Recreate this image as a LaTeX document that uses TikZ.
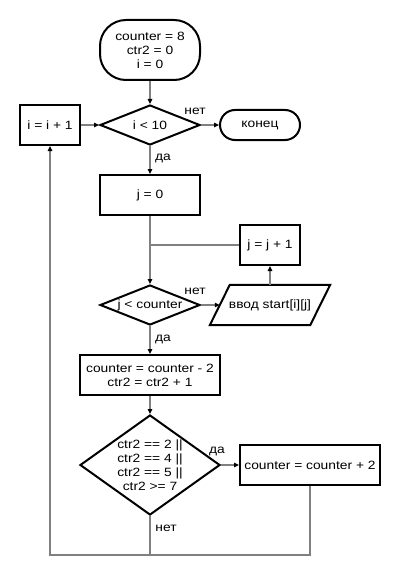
\documentclass[tikz,border=0pt]{standalone}
\usepackage{fontspec}
\setmainfont{Liberation Sans}[FakeStretch=1.15]
\usetikzlibrary{shapes.geometric,arrows.meta}
\begin{document}
\begin{tikzpicture}[x=1pt,y=-1pt,
  every node/.style={font=\fontsize{12}{14}\selectfont, text=black},
  proc/.style={draw=black, line width=2pt, rectangle, minimum height=40pt, inner sep=0pt, align=center},
  term/.style={draw=black, line width=2pt, rectangle, inner sep=0pt, align=center},
  decision/.style={draw=black, line width=2pt, diamond, aspect=2.5, inner sep=0pt, align=center},
  flow/.style={draw=gray, line width=1.6pt, -{Triangle[length=5pt,width=4.5pt,color=black]}},
  link/.style={draw=gray, line width=1.6pt},
  lbl/.style={inner sep=0pt}
]
\useasboundingbox (0,0) rectangle (400,575);

% blocks
\node[term, minimum width=100pt, minimum height=60pt, rounded corners=26pt] (start) at (150,50) {counter = 8\\ctr2 = 0\\i = 0};
\node[decision, minimum width=100pt, minimum height=40pt] (c1) at (150,125) {i < 10};
\node[term, minimum width=80pt, minimum height=30pt, rounded corners=15pt] (stop) at (260,125) {конец};
\node[proc, minimum width=60pt] (inci) at (50,125) {i = i + 1};
\node[proc, minimum width=100pt] (setj) at (150,195) {j = 0};
\node[proc, minimum width=60pt] (incj) at (270,245) {j = j + 1};
\node[decision, minimum width=100pt, minimum height=40pt] (c2) at (150,305) {j < counter};
\node[inner sep=0pt, minimum width=100pt, minimum height=40pt] (inp) at (270,305) {ввод start[i][j]};
\draw[line width=2pt, line join=miter]
  ([xshift=-10pt]inp.south west) -- ([xshift=-10pt]inp.south east)
  -- ([xshift=10pt]inp.north east) -- ([xshift=10pt]inp.north west) -- cycle;
\node[proc, minimum width=140pt] (upd) at (150,375) {counter = counter - 2\\ctr2 = ctr2 + 1};
\node[decision, minimum width=140pt, minimum height=100pt] (c3) at (150,465) {};
\node[align=center, inner sep=0pt] (c3txt) at (c3) {ctr2 == 2 ||\\ctr2 == 4 ||\\ctr2 == 5 ||\\ctr2 >= 7};
\node[proc, minimum width=140pt] (add) at (310,465) {counter = counter + 2};

\coordinate (junc) at (setj.south |- incj.west);
\coordinate (bot) at (150,555);

% connectors
\draw[flow] (start.south) -- (c1.north);
\draw[flow] (c1.east) -- (stop.west);
\draw[flow] (c1.south) -- (setj.north);
\draw[flow] (inci.east) -- (c1.west);
\draw[flow] (setj.south) -- (c2.north);
\draw[link] (incj.west) -- (junc);
\draw[flow] (c2.east) -- (inp.west);
\draw[flow] (inp.north) -- (incj.south);
\draw[flow] (c2.south) -- (upd.north);
\draw[flow] (upd.south) -- (c3.north);
\draw[flow] (c3.east) -- (add.west);
\draw[flow] (c3.south) -- (bot) -| (inci.south);
\draw[link] (add.south) |- (bot);

% branch labels
\node[lbl] (n1) at (195,111) {нет};
\node[lbl] (y1) at (163,158) {да};
\node[lbl] (n2) at (195,291) {нет};
\node[lbl] (y2) at (163,339) {да};
\node[lbl] (y3) at (217,451) {да};
\node[lbl] (n3) at (166,528) {нет};
\end{tikzpicture}
\end{document}
